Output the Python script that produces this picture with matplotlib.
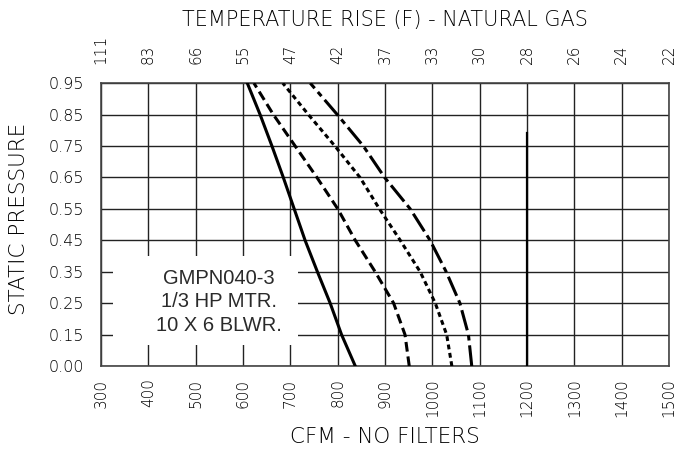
import numpy as np
import matplotlib
matplotlib.use('Agg')
import matplotlib.pyplot as plt
from matplotlib.patches import Rectangle

# static pressure levels (labels on the left axis), bottom to top
pressure = [0.00, 0.15, 0.25, 0.35, 0.45, 0.55, 0.65, 0.75, 0.85, 0.95]
pressure_labels = ['0.00', '0.15', '0.25', '0.35', '0.45', '0.55', '0.65', '0.75', '0.85', '0.95']

# CFM read at each pressure level, one list per blower speed
cfm_solid = [837, 808, 784, 757, 731, 708, 685, 661, 636, 609]
cfm_dashed = [951, 942, 918, 879, 837, 800, 756, 710, 664, 623]
cfm_short = [1041, 1030, 1006, 974, 932, 888, 847, 794, 738, 684]
cfm_long = [1083, 1076, 1058, 1029, 995, 953, 899, 854, 799, 742]

# vertical limit line
limit_cfm = 1200
limit_top = 0.79

cfm_ticks = [300, 400, 500, 600, 700, 800, 900, 1000, 1100, 1200, 1300, 1400, 1500]
temp_labels = ['111', '83', '66', '55', '47', '42', '37', '33', '30', '28', '26', '24', '22']

box_text = 'GMPN040-3\n1/3 HP MTR.\n10 X 6 BLWR.'

plt.rcParams['lines.scale_dashes'] = False
thin = dict(family='DejaVu Sans', weight=200)

# pressure axis is not linear (0.00 sits one step under 0.15), so use level index
idx = np.arange(len(pressure))
def ppos(p):
    return np.interp(p, pressure, idx)

fig = plt.figure(figsize=(6.78, 4.57), dpi=100)
ax = fig.add_axes([0.149, 0.199, 0.838, 0.619])

ax.plot(cfm_solid, idx, color='black', lw=2.2, zorder=3)
ax.plot(cfm_dashed, idx, color='black', lw=2.2, dashes=(7, 3.5), zorder=3)
ax.plot(cfm_short, idx, color='black', lw=2.2, dashes=(3.5, 2.6), zorder=3)
ax.plot(cfm_long, idx, color='black', lw=2.2, dashes=(15, 3.5, 4, 3.5), zorder=3)
ax.plot([limit_cfm, limit_cfm], [ppos(0.0), ppos(limit_top)], color='black', lw=1.6, zorder=3)

ax.set_xlim(cfm_ticks[0], cfm_ticks[-1])
ax.set_ylim(idx[0], idx[-1])
ax.set_xticks(cfm_ticks)
ax.set_xticklabels([str(c) for c in cfm_ticks], rotation=90, fontsize=11, **thin)
ax.set_yticks(idx)
ax.set_yticklabels(pressure_labels, fontsize=11.5, **thin)
ax.tick_params(axis='x', length=0, pad=9)
ax.tick_params(axis='y', length=0, pad=12)
ax.grid(True, color='#222222', lw=1.0)
for s in ax.spines.values():
    s.set_color('#444444')
    s.set_linewidth(1.2)

ax.set_xlabel('CFM - NO FILTERS', fontsize=15.5, labelpad=7, **thin)
ax.set_ylabel('STATIC PRESSURE', fontsize=15.5, **thin)
ax.yaxis.set_label_coords(-0.127, 0.52)

top = ax.secondary_xaxis('top')
top.set_xticks(cfm_ticks)
top.set_xticklabels(temp_labels, rotation=90, fontsize=11, **thin)
top.tick_params(length=0, pad=14)
top.spines['top'].set_visible(False)
top.set_xlabel('TEMPERATURE RISE (F) - NATURAL GAS', fontsize=15, labelpad=6, **thin)

# white label box covering the grid
ax.add_patch(Rectangle((325, 0.67), 391, 2.83, fc='white', ec='none', zorder=2.5))
ax.text(549, 2.05, box_text, ha='center', va='center', fontsize=14.5,
        family='Liberation Sans', color='#2a2a2a', linespacing=1.3, zorder=4)

fig.savefig('out.png', dpi=100)
